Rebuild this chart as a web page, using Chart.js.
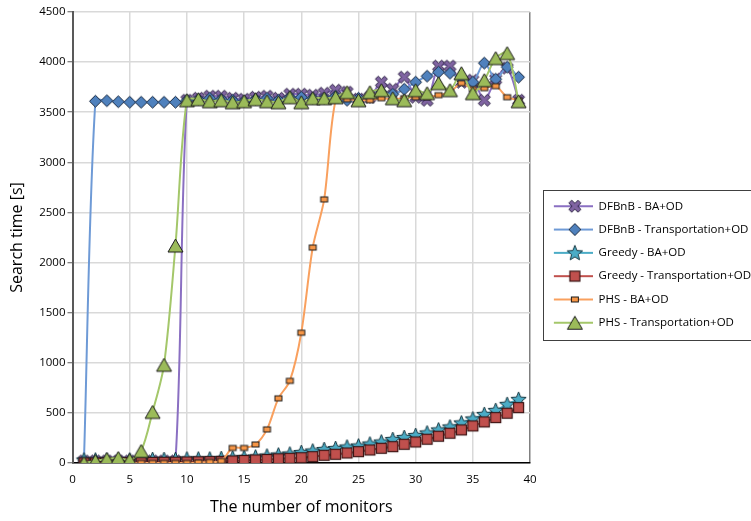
<!DOCTYPE html>
<html><head><meta charset="utf-8">
<script src="https://cdn.jsdelivr.net/npm/chart.js@4/dist/chart.umd.min.js"></script>
<style>html,body{margin:0;padding:0;background:#fff;overflow:hidden}#wrap{width:751px;height:521px;position:relative}</style>
</head><body><div id="wrap"><canvas id="c"></canvas></div>
<script>
const monitors = [1,2,3,4,5,6,7,8,9,10,11,12,13,14,15,16,17,18,19,20,21,22,23,24,25,26,27,28,29,30,31,32,33,34,35,36,37,38,39];
const seriesNames = ['DFBnB - BA+OD','DFBnB - Transportation+OD','Greedy - BA+OD','Greedy - Transportation+OD','PHS - BA+OD','PHS - Transportation+OD'];
const dfbnbBA = [20,20,20,20,20,20,20,20,20,
  3620,3640,3660,3660,3640,3630,3650,3660,3640,3680,3680,3670,3690,3720,
  3700,3630,3650,3800,3730,3850,3650,3620,3960,3960,3800,3820,3620,3830,3940,3620];
const dfbnbTrans = [20,3610,3615,3605,3600,3600,3600,3600,3600,
  3620,3630,3640,3630,3620,3610,3630,3640,3620,3650,3650,3640,3640,3660,
  3620,3640,3650,3700,3680,3730,3800,3860,3900,3890,3830,3800,3990,3830,3950,3850];
const greedyBA = [30,30,30,30,30,30,35,35,35,40,40,40,45,
  50,55,60,70,80,90,105,120,135,145,160,170,190,210,235,255,275,300,330,360,400,440,485,525,585,635];
const greedyTrans = [0,0,2,3,4,5,6,7,8,10,12,14,16,
  20,25,30,35,42,47,53,63,77,87,100,113,130,147,163,187,210,237,267,297,330,370,410,453,497,553];
const phsBA = [0,0,0,0,0,0,0,0,0,0,5,10,20,
  150,150,185,335,645,820,1300,2150,2630,
  3620,3630,3620,3620,3640,3630,3640,3650,3650,3670,3700,3790,3730,3740,3760,3650,3620];
const phsTrans = [0,20,40,50,30,120,510,980,2170,
  3620,3630,3610,3620,3600,3610,3630,3610,3600,3650,
  3600,3640,3640,3650,3700,3620,3700,3720,3640,3620,3720,3690,3790,3720,3890,3690,3820,4040,4090,3610];
const xTicks = [0,5,10,15,20,25,30,35,40];
const yTicks = [0,500,1000,1500,2000,2500,3000,3500,4000,4500];

const FONT = "'Open Sans', 'DejaVu Sans', sans-serif";

function mk(w, h, fn) {
  const c = document.createElement('canvas');
  c.width = w; c.height = h;
  const g = c.getContext('2d');
  fn(g, w / 2, h / 2);
  return c;
}
function xShape(g, cx, cy, s, a, fill, stroke) {
  const pts = [[a,s],[-a,s],[-a,a],[-s,a],[-s,-a],[-a,-a],[-a,-s],[a,-s],[a,-a],[s,-a],[s,a],[a,a]];
  const r = Math.SQRT1_2;
  g.beginPath();
  pts.forEach((p, i) => {
    const x = cx + (p[0] - p[1]) * r, y = cy + (p[0] + p[1]) * r;
    i ? g.lineTo(x, y) : g.moveTo(x, y);
  });
  g.closePath(); g.fillStyle = fill; g.fill(); g.lineWidth = 1; g.strokeStyle = stroke; g.stroke();
}
function diamond(g, cx, cy, s, fill, stroke) {
  g.beginPath(); g.moveTo(cx, cy - s); g.lineTo(cx + s, cy); g.lineTo(cx, cy + s); g.lineTo(cx - s, cy); g.closePath();
  g.fillStyle = fill; g.fill(); g.lineWidth = 1; g.strokeStyle = stroke; g.stroke();
}
function star(g, cx, cy, R, r, fill, stroke) {
  g.beginPath();
  for (let i = 0; i < 10; i++) {
    const ang = -Math.PI / 2 + i * Math.PI / 5, rad = i % 2 ? r : R;
    const x = cx + rad * Math.cos(ang), y = cy + rad * Math.sin(ang);
    i ? g.lineTo(x, y) : g.moveTo(x, y);
  }
  g.closePath(); g.fillStyle = fill; g.fill(); g.lineWidth = 1; g.strokeStyle = stroke; g.stroke();
}
function rect(g, cx, cy, w, h, fill, stroke, lw) {
  g.fillStyle = fill; g.fillRect(cx - w / 2, cy - h / 2, w, h);
  g.lineWidth = lw; g.strokeStyle = stroke; g.strokeRect(cx - w / 2, cy - h / 2, w, h);
}
function tri(g, cx, cy, w, h, fill, stroke) {
  g.beginPath(); g.moveTo(cx, cy - h / 2); g.lineTo(cx + w / 2, cy + h / 2); g.lineTo(cx - w / 2, cy + h / 2); g.closePath();
  g.fillStyle = fill; g.fill(); g.lineWidth = 1; g.strokeStyle = stroke; g.stroke();
}
const markerFns = [
  (g, cx, cy) => xShape(g, cx, cy, 6.5, 2, '#8064A2', '#2a2140'),
  (g, cx, cy) => diamond(g, cx, cy, 6, '#4F81BD', '#1c2b40'),
  (g, cx, cy) => star(g, cx, cy + 0.5, 8, 3.5, '#4BACC6', '#163640'),
  (g, cx, cy) => rect(g, cx, cy, 10, 10, '#C0504D', '#3a1414', 1.2),
  (g, cx, cy) => rect(g, cx, cy, 7, 5, '#F79646', '#1a1a1a', 1),
  (g, cx, cy) => tri(g, cx, cy, 15, 13, '#9BBB59', '#1a1a1a')
];
const lineColors = ['#8A6FC2', '#6E9AD6', '#4BACC6', '#C0504D', '#F9A05E', '#A4C76A'];
const markers = markerFns.map(fn => mk(19, 19, (g, cx, cy) => fn(g, cx, cy)));
const LEG_W = 51;
const legendMarks = markerFns.map((fn, i) => mk(LEG_W, 18, (g, cx, cy) => {
  g.strokeStyle = lineColors[i]; g.lineWidth = 2;
  g.beginPath(); g.moveTo(12, cy); g.lineTo(LEG_W, cy); g.stroke();
  fn(g, 33, cy);
}));

const seriesData = [dfbnbBA, dfbnbTrans, greedyBA, greedyTrans, phsBA, phsTrans];
const datasets = seriesData.map((arr, i) => ({
  label: seriesNames[i],
  data: arr.map((v, k) => ({x: monitors[k], y: v})),
  borderColor: lineColors[i],
  backgroundColor: lineColors[i],
  borderWidth: 2,
  tension: 0.3,
  pointStyle: markers[i],
  pointRadius: 6,
  order: 6 - i,
  fill: false
}));

const legendBorder = {
  id: 'legendBorder',
  afterDraw(chart) {
    const lg = chart.legend;
    if (!lg || !lg.legendHitBoxes || !lg.legendHitBoxes.length) return;
    const hb = lg.legendHitBoxes;
    const first = hb[0], last = hb[hb.length - 1];
    const ctx = chart.ctx;
    ctx.save();
    ctx.strokeStyle = '#404040'; ctx.lineWidth = 1;
    const left = Math.round(first.left + 1);
    const top = Math.round(first.top + first.height / 2 - 16.5);
    const bottom = Math.round(last.top + last.height / 2 + 17.5);
    ctx.strokeRect(left + 0.5, top + 0.5, 780 - left, bottom - top);
    ctx.restore();
  }
};

new Chart(document.getElementById('c'), {
  type: 'line',
  data: {datasets},
  plugins: [legendBorder],
  options: {
    responsive: true,
    maintainAspectRatio: false,
    animation: false,
    layout: {padding: {top: 12, left: 8, bottom: 4, right: -10}},
    plugins: {
      tooltip: {enabled: false},
      legend: {
        position: 'right',
        maxWidth: 400,
        labels: {
          usePointStyle: true,
          pointStyleWidth: LEG_W,
          padding: 11.8,
          color: '#000',
          font: {family: FONT, size: 11.5},
          generateLabels: (chart) => seriesNames.map((n, i) => ({
            text: n, pointStyle: legendMarks[i], fillStyle: 'transparent', strokeStyle: 'transparent',
            lineWidth: 0, hidden: false, datasetIndex: i, fontColor: '#000'
          }))
        }
      }
    },
    scales: {
      x: {
        type: 'linear', min: 0, max: 40,
        afterBuildTicks: (s) => { s.ticks = xTicks.map(v => ({value: v})); },
        grid: {
          color: (c) => (c.tick && c.tick.value === 40) ? '#808080' : '#d9d9d9',
          lineWidth: 1.5, drawTicks: false
        },
        border: {color: '#000', width: 1.5},
        ticks: {color: '#000', font: {family: FONT, size: 11.5}, padding: 10, maxRotation: 0, callback: (v) => String(v)},
        title: {display: true, text: 'The number of monitors', color: '#000', font: {family: FONT, size: 16}, padding: {top: 1, bottom: 0}}
      },
      y: {
        type: 'linear', min: 0, max: 4500,
        afterBuildTicks: (s) => { s.ticks = yTicks.map(v => ({value: v})); },
        grid: {color: '#d9d9d9', lineWidth: 1.5, tickLength: 5, tickColor: '#595959', tickWidth: 1},
        border: {color: '#595959', width: 2},
        ticks: {color: '#000', font: {family: FONT, size: 11.5}, padding: 2, callback: (v) => String(v)},
        title: {display: true, text: 'Search time [s]', color: '#000', font: {family: FONT, size: 16}, padding: {top: 0, bottom: 10}}
      }
    }
  }
});
</script>
</body></html>
